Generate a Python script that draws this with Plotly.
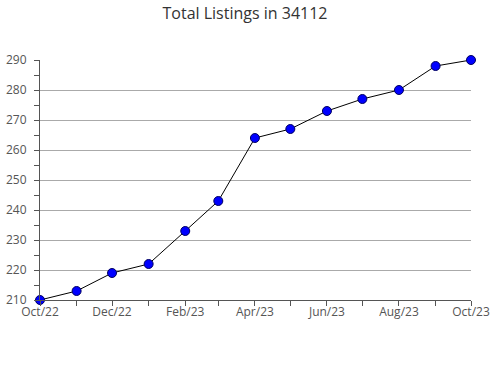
import plotly.graph_objects as go

months = ["2022-10-01","2022-11-01","2022-12-01","2023-01-01","2023-02-01","2023-03-01","2023-04-01",
          "2023-05-01","2023-06-01","2023-07-01","2023-08-01","2023-09-01","2023-10-01"]
listings = [210, 213, 219, 222, 233, 243, 264, 267, 273, 277, 280, 288, 290]
tick_vals = ["2022-10-01","2022-12-01","2023-02-01","2023-04-01","2023-06-01","2023-08-01","2023-10-01"]
tick_text = ["Oct/22","Dec/22","Feb/23","Apr/23","Jun/23","Aug/23","Oct/23"]
y_ticks = [210, 220, 230, 240, 250, 260, 270, 280, 290]

fig = go.Figure()
fig.add_trace(go.Scatter(
    x=months, y=listings, mode="lines+markers",
    line=dict(color="black", width=1),
    marker=dict(color="#0000ff", size=9, line=dict(color="#000060", width=1)),
    cliponaxis=False,
))
fig.update_layout(
    width=490, height=380,
    margin=dict(l=40, r=19, t=60, b=80, autoexpand=False),
    paper_bgcolor="white", plot_bgcolor="white",
    showlegend=False,
    title=dict(text="Total Listings in 34112", x=0.5, xanchor="center", y=0.98, yanchor="top",
               font=dict(family="Open Sans", size=16, color="#333333")),
    font=dict(family="Open Sans", size=12, color="#555555"),
)
fig.update_xaxes(
    type="date", range=["2022-10-01","2023-10-01"], automargin=False,
    tickvals=tick_vals, ticktext=tick_text,
    showgrid=False, showline=True, linecolor="#555555", linewidth=1,
    ticks="outside", ticklen=5, tickcolor="#555555", ticklabelstandoff=-4,
    minor=dict(dtick="M1", ticks="outside", ticklen=5, tickcolor="#555555", showgrid=False),
    tickfont=dict(size=12, color="#555555"), zeroline=False,
)
fig.update_yaxes(
    range=[210, 290], tickvals=y_ticks, automargin=False,
    showgrid=True, gridcolor="#aaaaaa", gridwidth=1,
    showline=True, linecolor="#555555", linewidth=1,
    ticks="outside", ticklen=0, ticklabelstandoff=10,
    minor=dict(dtick=5, tick0=210, ticks="outside", ticklen=5, tickcolor="#555555", showgrid=False),
    tickfont=dict(size=12, color="#555555"), zeroline=False,
)
fig.write_html("out.html")
